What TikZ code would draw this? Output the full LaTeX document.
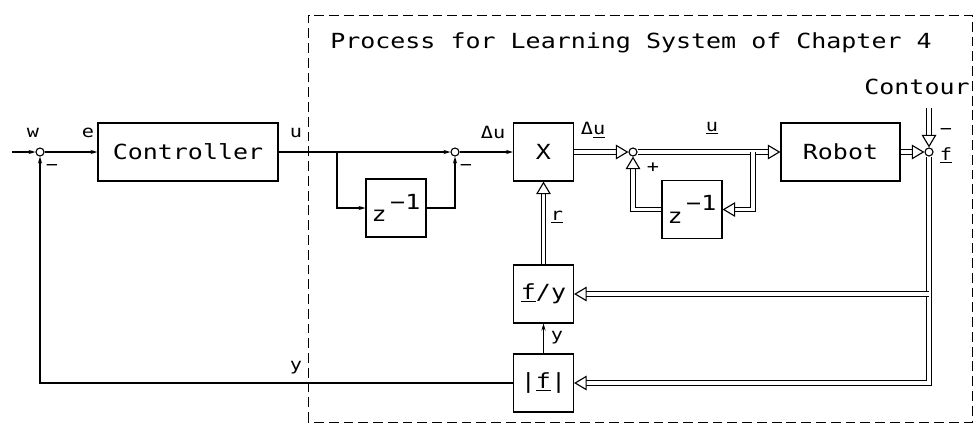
\documentclass[tikz,border=0pt]{standalone}
\usepackage{fontspec}
\newfontfamily\plotfont[FakeStretch=1.2]{DejaVu Sans Mono}
\usepackage{tikz}
\usetikzlibrary{
  arrows.meta, arrows,
  positioning, calc
}

\tikzset{
  block/.style={draw, line width=0.8pt, minimum width=1.5cm, minimum height=1.45cm, inner sep=0pt},
  sumpt/.style={draw, circle, line width=0.8pt, minimum size=0.2cm, inner sep=0pt},
  dbl/.style={double, double distance=2.4pt, line width=0.8pt,
    -{Triangle[open, length=9pt, width=10.5pt]}},
  lbl/.style={font=\plotfont\fontsize{12}{14}\selectfont, inner sep=0pt}
}

\begin{document}
\begin{tikzpicture}[x=0.025cm, y=-0.025cm, >={Stealth[length=5pt,width=3pt]},
    line width=0.8pt, font=\plotfont\fontsize{14.8}{16}\selectfont]
  \useasboundingbox (0,0) rectangle (974,424);

  % process boundary
  \draw[dashed, dash pattern=on 7pt off 3.5pt, line width=0.7pt]
    (308,422) -- (308,15) -- (972,15) -- (972,422) -- cycle;
  \node (title) at (631,43) {Process for Learning System of Chapter 4};

  % summing points
  \node[sumpt] (sone)   at (40,152)  {};
  \node[sumpt] (stwo)   at (455,152) {};
  \node[sumpt] (sthree) at (633,152) {};
  \node[sumpt] (sfour)  at (929,152) {};

  % blocks
  \node[block, minimum width=4.5cm] (ctrl) at (188,152) {Controller};
  \node[block] (zone)  at (396,208)   {z\,\raisebox{1.1ex}{−1}};
  \node[block] (mult)  at (543.5,152) {X};
  \node[block] (ztwo)  at (692,209.5) {z\,\raisebox{1.1ex}{−1}};
  \node[block, minimum width=2.975cm] (robot) at (840.5,152) {Robot};
  \node[block] (fy)    at (543.5,294) {\underline{f}/y};
  \node[block] (absf)  at (543.5,383) {|\underline{f}|};

  % branch points and free ends
  \coordinate (win) at (12,152);
  \coordinate (brone) at (337,152);
  \coordinate (brtwo) at (753,152);
  \coordinate (cin) at (929,108);

  % single lines
  \draw[->] (win) -- (sone.west);
  \draw[->] (sone.east) -- (ctrl.west);
  \draw[->] (ctrl.east) -- (stwo.west);
  \draw[->] (brone) |- (zone.west);
  \draw[->] (zone.east) -| (stwo.south);
  \draw[->] (stwo.east) -- (mult.west);
  \draw[->] (absf.north) -- (fy.south);
  \draw[->] (absf.west) -| (sone.south);

  % double lines
  \draw[dbl] (mult.east) -- (sthree.west);
  \draw[dbl] (sthree.east) -- (robot.west);
  \draw[dbl] (brtwo) |- (ztwo.east);
  \draw[dbl] (ztwo.west) -| (sthree.south);
  \draw[dbl] (robot.east) -- (sfour.west);
  \draw[dbl] (cin) -- (sfour.north);
  \draw[dbl] (sfour.south) |- (absf.east);
  \draw[dbl] (sfour |- fy.east) -- (fy.east);
  \draw[dbl] (fy.north) -- (mult.south);

  % signal labels
  \node[lbl] (lw)   at (33,133)  {w};
  \node[lbl] (le)   at (88,133)  {e};
  \node[lbl] (lu)   at (296,133) {u};
  \node[lbl] (ldu)  at (493,132) {Δu};
  \node[lbl] (lduv) at (593,130) {Δ\underline{u}};
  \node[lbl] (luv)  at (712,128) {\underline{u}};
  \node[lbl] (lr)   at (557,217) {\underline{r}};
  \node[lbl] (lyone) at (557,338) {y};
  \node[lbl] (lytwo) at (296,368) {y};
  \node[lbl] (lfv)  at (946,155) {\underline{f}};
  \node (lcont) at (917,87) {Contour};

  % signs at summing points
  \node[lbl] (mone)   at (52,167)  {−};
  \node[lbl] (mtwo)   at (466,167) {−};
  \node[lbl] (pthree) at (653,168) {+};
  \node[lbl] (mfour)  at (946,131) {−};
\end{tikzpicture}
\end{document}
